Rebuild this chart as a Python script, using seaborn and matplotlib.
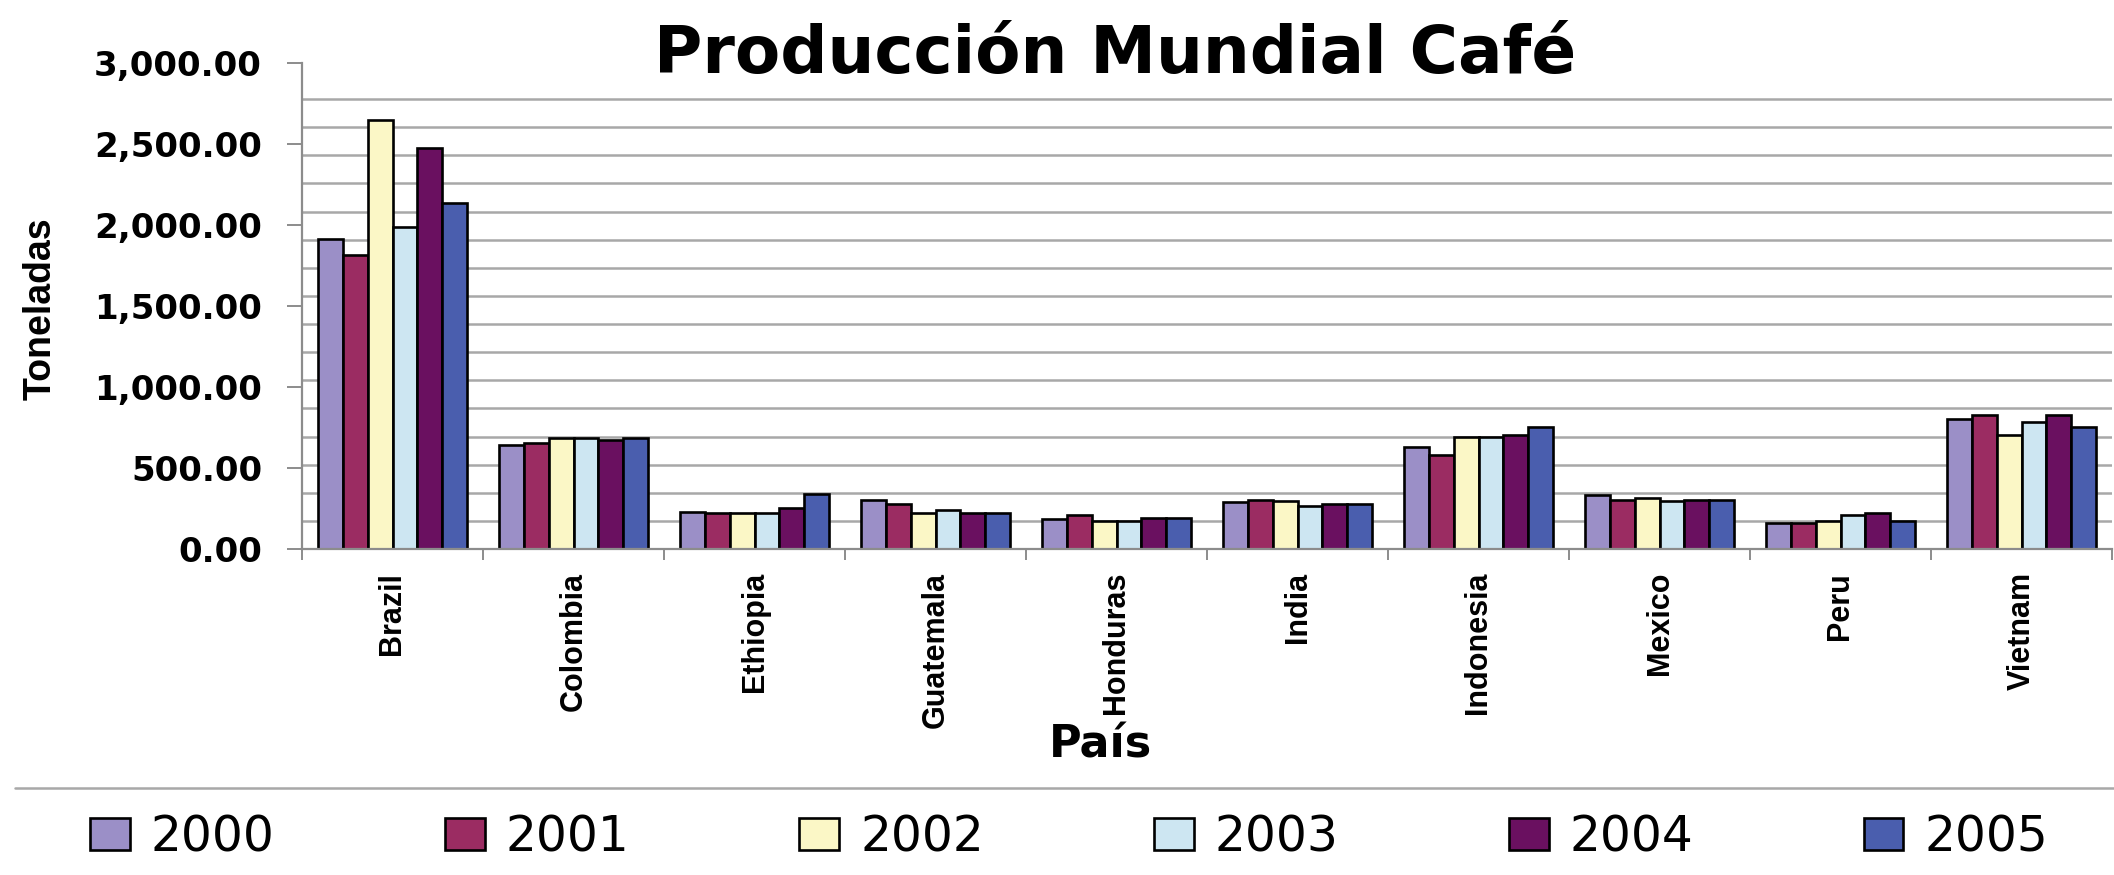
import numpy as np
import pandas as pd
import matplotlib
matplotlib.use('Agg')
import matplotlib.pyplot as plt
import seaborn as sns
from matplotlib.patches import Patch
from matplotlib.lines import Line2D
from matplotlib.ticker import FixedLocator, FuncFormatter

# Data (toneladas)
countries = ['Brazil', 'Colombia', 'Ethiopia', 'Guatemala', 'Honduras',
             'India', 'Indonesia', 'Mexico', 'Peru', 'Vietnam']
years = ['2000', '2001', '2002', '2003', '2004', '2005']

prod_2000 = [1914, 640, 228, 301, 187, 291, 627, 336, 160, 805]
prod_2001 = [1816, 656, 222, 276, 208, 305, 581, 305, 160, 830]
prod_2002 = [2647, 683, 222, 222, 170, 297, 691, 315, 172, 702]
prod_2003 = [1987, 683, 222, 239, 170, 266, 691, 297, 208, 785]
prod_2004 = [2477, 671, 255, 224, 191, 276, 706, 305, 224, 830]
prod_2005 = [2138, 687, 338, 224, 191, 276, 751, 305, 172, 751]

year_colors = ['#9b8fc7', '#9b2c62', '#fbf7c6', '#cde6f2', '#6a1060', '#4a5eae']

sns.set_style('white')
plt.rcParams['font.family'] = ['Liberation Sans', 'DejaVu Sans']
plt.rcParams['text.color'] = 'black'
plt.rcParams['axes.labelcolor'] = 'black'
plt.rcParams['xtick.labelcolor'] = 'black'
plt.rcParams['ytick.labelcolor'] = 'black'

series = [prod_2000, prod_2001, prod_2002, prod_2003, prod_2004, prod_2005]
df = pd.DataFrame({
    'Pais': countries * len(years),
    'Anio': [y for y in years for _ in countries],
    'Toneladas': [v for s in series for v in s],
})

W, H = 2114, 875
fig = plt.figure(figsize=(W / 100, H / 100), dpi=100)
ax = fig.add_axes([302 / W, 1 - 549 / H, 1810 / W, 486 / H])

sns.barplot(data=df, x='Pais', y='Toneladas', hue='Anio', order=countries,
            hue_order=years, palette=year_colors, saturation=1, width=0.82,
            edgecolor='black', linewidth=1.9, errorbar=None, legend=False, ax=ax)

ax.set_xlim(-0.5, 9.5)
ax.set_ylim(0, 3000)

# y axis: labelled ticks every 500, gridlines on their own spacing
ax.set_yticks(np.arange(0, 3001, 500))
ax.yaxis.set_major_formatter(FuncFormatter(lambda v, p: f'{v:,.2f}'))
ax.yaxis.set_minor_locator(FixedLocator(np.arange(1, 17) * 173.6))
ax.yaxis.grid(True, which='minor', color='#a8a8a8', linewidth=1.8)
ax.yaxis.grid(False, which='major')
ax.xaxis.grid(False)
ax.set_axisbelow(True)
ax.tick_params(axis='y', which='major', direction='out', length=10.8, width=1.4,
               color='#8c8c8c', pad=18, left=True)
ax.tick_params(axis='y', which='minor', length=0)
for lab in ax.get_yticklabels():
    lab.set_fontfamily('DejaVu Sans')
    lab.set_fontweight('bold')
    lab.set_fontsize(24.5)

# x axis: tick marks between groups, labels vertical
ax.set_xticks(np.arange(len(countries)))
ax.set_xticks(np.arange(-0.5, len(countries)), minor=True)
ax.tick_params(axis='x', which='major', length=0, pad=16.5)
ax.tick_params(axis='x', which='minor', direction='out', length=8, width=1.4,
               color='#8c8c8c', bottom=True)
ax.set_xticklabels(countries, rotation=90, fontweight='bold', fontsize=22,
                   va='top', ha='center')

for side in ['top', 'right']:
    ax.spines[side].set_visible(False)
for side in ['left', 'bottom']:
    ax.spines[side].set_color('#8c8c8c')
    ax.spines[side].set_linewidth(1.6)

ax.set_xlabel('País', fontfamily='DejaVu Sans', fontweight='bold', fontsize=32)
ax.xaxis.set_label_coords(0.441, -0.36)
ax.set_ylabel('Toneladas', fontweight='bold', fontsize=27)
ax.yaxis.set_label_coords(-0.1345, 0.494)

fig.text(1115 / W, 1 - 73 / H, 'Producción Mundial Café', ha='center', va='baseline',
         fontfamily='DejaVu Sans', fontweight='bold', fontsize=47.5)

# separator line above the legend
fig.add_artist(Line2D([15 / W, 1], [1 - 788 / H, 1 - 788 / H], transform=fig.transFigure,
                      color='#a8a8a8', linewidth=1.8))

handles = [Patch(facecolor=c, edgecolor='black', linewidth=1.9, label=y)
           for c, y in zip(year_colors, years)]
fig.legend(handles=handles, loc='center left', bbox_to_anchor=(90 / W, 1 - 837 / H),
           ncol=6, frameon=False, prop={'family': 'DejaVu Sans', 'size': 35},
           handlelength=0.82, handleheight=0.66, handletextpad=0.43,
           columnspacing=3.5, borderpad=0, borderaxespad=0)

fig.savefig('out.png', dpi=100)
